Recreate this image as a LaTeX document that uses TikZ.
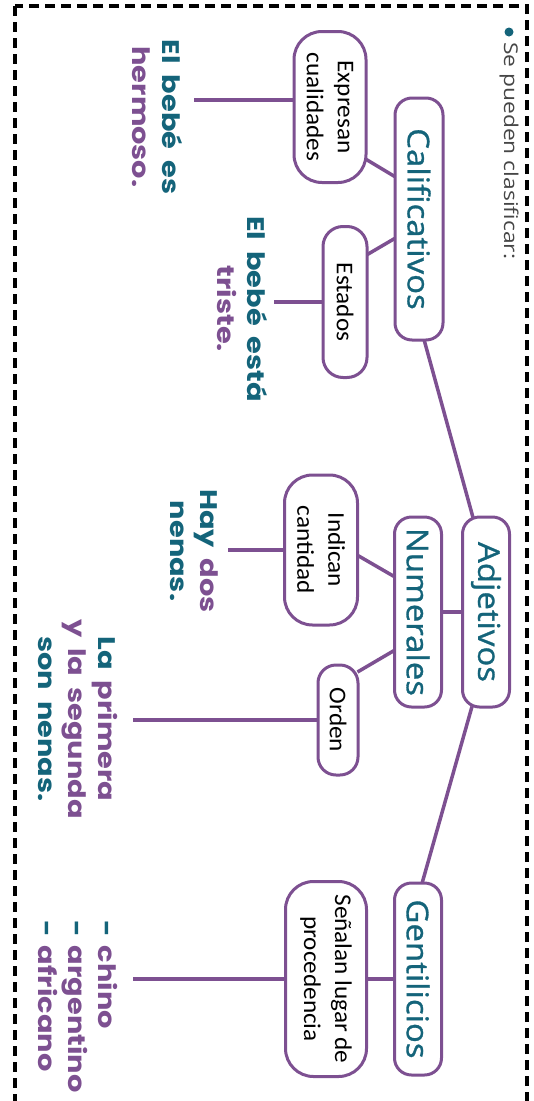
\documentclass[tikz,border=0pt]{standalone}
\usepackage{fontspec}
\usetikzlibrary{calc,backgrounds}
\newfontfamily\mainlab[FakeStretch=1.1,FakeBold=1.0]{Open Sans}
\newfontfamily\boxfont[FakeStretch=1.05]{Carlito}
\newfontfamily\exfont[FakeStretch=1.2,WordSpace=1.8]{Poppins}
\newfontfamily\bulfont[FakeStretch=1.2]{Open Sans}
\definecolor{pur}{RGB}{125,80,145}
\definecolor{tealc}{RGB}{20,100,122}
\definecolor{grayt}{RGB}{70,70,70}
\tikzset{
  mainbox/.style={draw=pur, line width=3pt, rounded corners=17pt, fill=white, rotate=-90,
    font=\mainlab\fontsize{30}{36}\selectfont, text=tealc, inner sep=0pt},
  subbox/.style={draw=pur, line width=3pt, rounded corners=20pt, fill=white, rotate=-90,
    font=\boxfont\fontsize{24}{31}\selectfont, align=center, inner sep=0pt},
  extext/.style={rotate=-90, font=\exfont\bfseries\fontsize{24}{30}\selectfont, inner sep=0pt},
  conn/.style={draw=pur, line width=3.5pt},
}
\begin{document}
\begin{tikzpicture}[x=1pt,y=-1pt]
\useasboundingbox (0,0) rectangle (534,1101);
% dashed frame
\draw[line width=4pt, dash pattern=on 10pt off 6pt] (15,6) rectangle (527,1130);
% bullet
\fill[tealc] (509,32) circle (4.5pt);
\node[rotate=-90, anchor=west, inner sep=0pt, font=\bulfont\fontsize{19}{22}\selectfont, text=grayt] (bul) at (509,42) {Se pueden clasificar:};
% main boxes
\node[mainbox, minimum width=190pt, minimum height=47pt] (adj) at (486,612) {Adjetivos};
\node[mainbox, minimum width=242pt, minimum height=48pt] (cal) at (419,219) {Calificativos};
\node[mainbox, minimum width=190pt, minimum height=47pt] (num) at (418,612) {Numerales};
\node[mainbox, minimum width=192pt, minimum height=47pt] (gen) at (418,979) {Gentilicios};
% sub boxes
\node[subbox, rounded corners=28pt, minimum width=151pt, minimum height=72pt] (exp) at (330,107) {Expresan\\cualidades};
\node[subbox, minimum width=151pt, minimum height=44pt] (est) at (345,302) {Estados};
\node[subbox, rounded corners=28pt, minimum width=150pt, minimum height=73pt] (ind) at (321,550) {Indican\\cantidad};
\node[subbox, rounded corners=18pt, minimum width=110pt, minimum height=40pt] (ord) at (338,720) {Orden};
\node[subbox, rounded corners=28pt, minimum width=195pt, minimum height=81pt] (sen) at (326,979) {Señalan lugar de\\procedencia};
% examples
\node[extext, align=center] (ex1) at (157,117) {\textcolor{tealc}{El bebé es}\\\textcolor{pur}{hermoso.}};
\node[extext, align=center] (ex2) at (242,309) {\textcolor{tealc}{El bebé está}\\\textcolor{pur}{triste.}};
\node[extext, align=center] (ex3) at (194,551) {\textcolor{tealc}{Hay} \textcolor{pur}{dos}\\\textcolor{tealc}{nenas.}};
\node[extext, align=center] (ex4) at (78,719) {\textcolor{tealc}{La} \textcolor{pur}{primera}\\\textcolor{pur}{y la segunda}\\\textcolor{tealc}{son nenas.}};
\node[extext, align=left, anchor=west] (ex5) at (78,920) {\textcolor{tealc}{-}\hspace{9pt}\textcolor{pur}{chino}\\\textcolor{tealc}{-}\hspace{9pt}\textcolor{pur}{argentino}\\\textcolor{tealc}{-}\hspace{9pt}\textcolor{pur}{africano}};
% free ends
\coordinate (e1) at (194,100);
\coordinate (e2) at (274,302);
\coordinate (e3) at (228,550);
\coordinate (e4) at (133,720);
\coordinate (e5) at (133,979);
\begin{pgfonlayer}{background}
\draw[conn] ($(cal.east)+(5,-2)$) -- ($(adj.west)+(-13,2)$);
\draw[conn] ($(adj.east)+(-14,-2)$) -- ($(gen.west)+(4,2)$);
\draw[conn] (adj.south) -- (num.north);
\draw[conn] ($(cal.south)+(2,-42)$) -- ($(exp.north)+(-2,52)$);
\draw[conn] ($(cal.south)+(2,19)$) -- ($(est.north)+(-2,-47)$);
\draw[conn] ($(num.south)+(2,-35)$) -- ($(ind.north)+(-2,5)$);
\draw[conn] ($(num.south)+(2,38)$) -- ($(ord.north)+(-2,-48)$);
\draw[conn] (gen.south) -- (sen.north);
\draw[conn] ($(exp.south)+(0,-7)$) -- (e1);
\draw[conn] (est.south) -- (e2);
\draw[conn] (ind.south) -- (e3);
\draw[conn] (ord.south) -- (e4);
\draw[conn] (sen.south) -- (e5);
\end{pgfonlayer}
\end{tikzpicture}
\end{document}
